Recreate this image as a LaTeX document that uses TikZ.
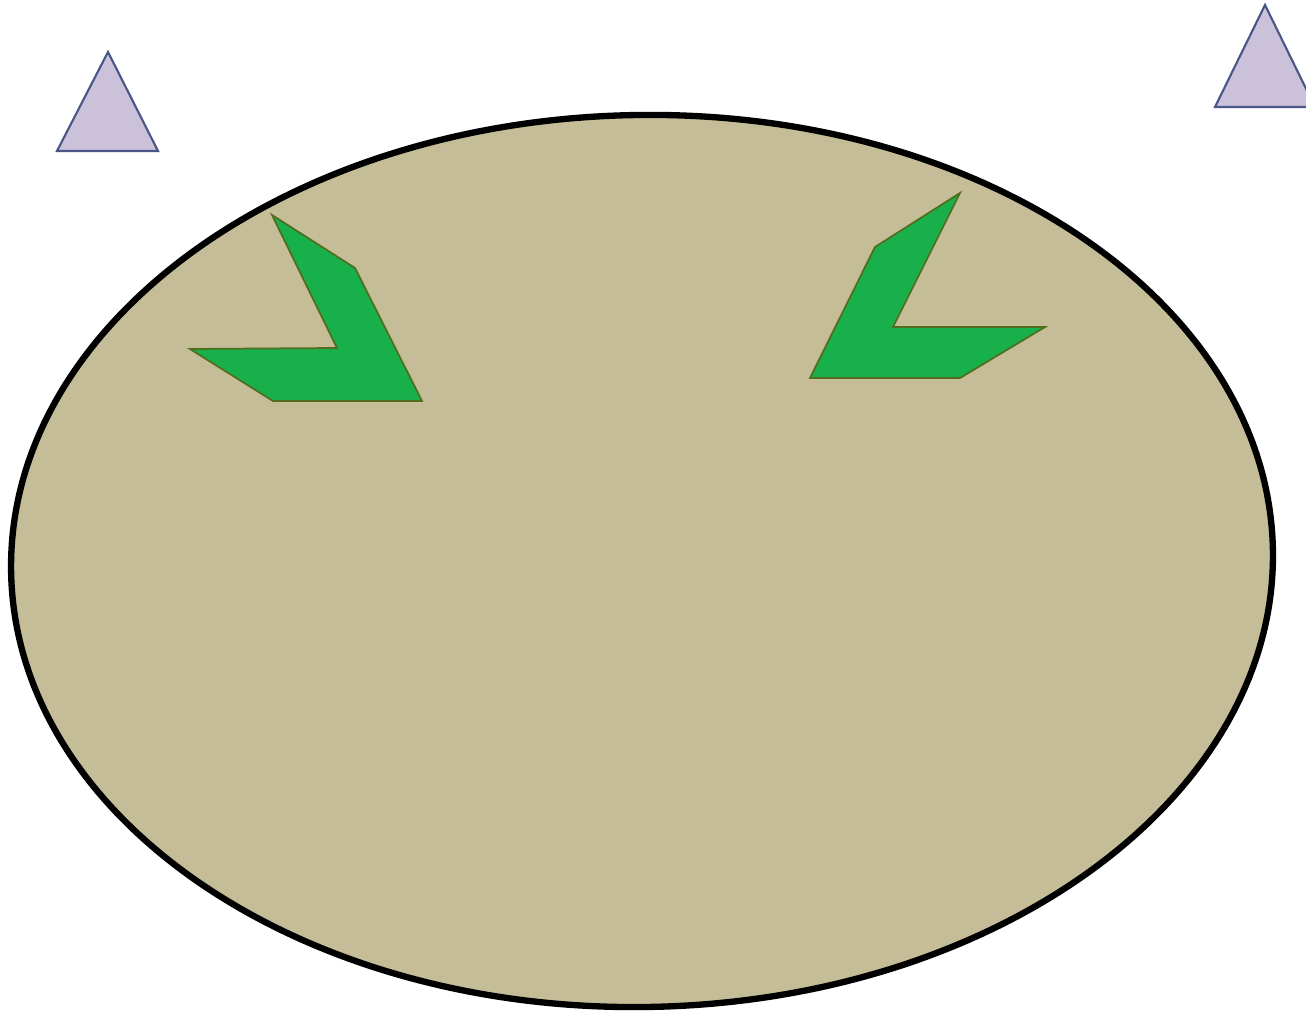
\documentclass[tikz,border=0pt]{standalone}
\definecolor{soil}{RGB}{196,189,151}
\definecolor{leaf}{RGB}{24,176,74}
\definecolor{leafedge}{RGB}{80,110,30}
\definecolor{lilac}{RGB}{204,193,218}
\definecolor{lilacedge}{RGB}{72,86,136}
\tikzset{
  field/.style={fill=soil, draw=black, line width=1.8pt},
  sprout/.style={fill=leaf, draw=leafedge, line width=0.5pt, line join=miter},
  marker/.style={fill=lilac, draw=lilacedge, line width=0.6pt}
}
\begin{document}
\begin{tikzpicture}[x=0.01cm,y=-0.01cm]
  \useasboundingbox (0,0) rectangle (1306,1016);
  \clip (0,0) rectangle (1306,1016);
  \fill[white] (0,0) rectangle (1306,1016);
  % field
  \draw[field, rotate around={1:(642,561)}] (642,561) ellipse (631 and 446);
  % sprouts
  \draw[sprout] (272,215) -- (355,268) -- (422,401) -- (273,401) -- (190,349) -- (337,348) -- cycle;
  \draw[sprout] (960,193) -- (875,247) -- (810,378) -- (960,378) -- (1045,327) -- (893,327) -- cycle;
  % markers
  \draw[marker] (108,52) -- (158,151) -- (57,151) -- cycle;
  \draw[marker] (1265,5) -- (1315,107) -- (1215,107) -- cycle;
\end{tikzpicture}
\end{document}
